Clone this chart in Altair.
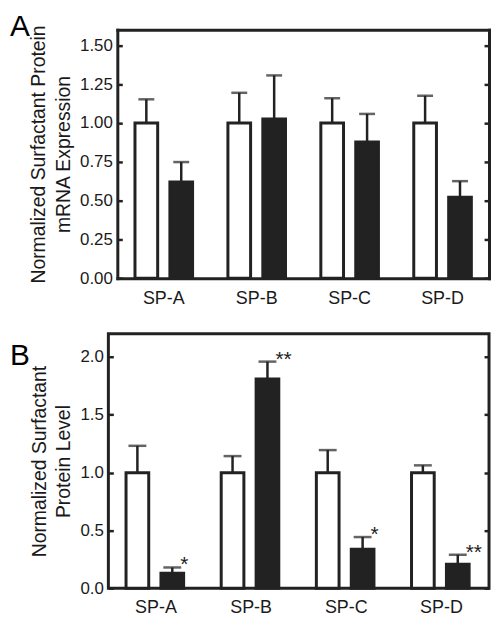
import altair as alt
import pandas as pd

genes = ["SP-A", "SP-B", "SP-C", "SP-D"]
groups = ["Control", "Treated"]

# Panel A: normalized mRNA expression
a_control_mean = [1.00, 1.00, 1.00, 1.00]
a_control_upper = [1.152, 1.194, 1.159, 1.175]
a_treated_mean = [0.619, 1.026, 0.878, 0.522]
a_treated_upper = [0.748, 1.306, 1.058, 0.625]
a_sig = ["", "", "", ""]

# Panel B: normalized protein level
b_control_mean = [1.00, 1.00, 1.00, 1.00]
b_control_upper = [1.232, 1.143, 1.195, 1.063]
b_treated_mean = [0.131, 1.81, 0.337, 0.208]
b_treated_upper = [0.18, 1.96, 0.443, 0.29]
b_sig = ["*", "**", "*", "**"]

a_ticks = [0, 0.25, 0.5, 0.75, 1.0, 1.25, 1.5]
b_ticks = [0, 0.5, 1.0, 1.5, 2.0]

INK = "#222222"
TXT = "#1a1a1a"
FONT = "Liberation Sans"


def make_frame(cm, cu, tm, tu, sig):
    rows = []
    for i, g in enumerate(genes):
        rows.append(dict(gene=g, group=groups[0], mean=cm[i], upper=cu[i], sig=""))
        rows.append(dict(gene=g, group=groups[1], mean=tm[i], upper=tu[i], sig=sig[i]))
    return pd.DataFrame(rows)


def panel(df, letter, width, height, ymax, ticks, fmt, title, x0,
          letter_y, pad_inner, pad_outer, cap, own_frame, xlab_pad):
    xscale = alt.Scale(paddingInner=0, paddingOuter=0, range=[x0, width])
    bottom_axis = alt.Axis(title=None, labelAngle=0, ticks=False, tickSize=0,
                           domain=own_frame, domainWidth=3, domainColor=INK,
                           domainCap="square", labelPadding=xlab_pad, labelFontSize=18)
    x = alt.X("gene:N", sort=genes, scale=xscale, axis=bottom_axis)
    x_none = alt.X("gene:N", sort=genes, scale=xscale, axis=None)
    x_top = alt.X("gene:N", sort=genes, scale=xscale,
                  axis=alt.Axis(orient="top", title=None, labels=False, ticks=False,
                                tickSize=0, domain=True, domainWidth=3,
                                domainColor=INK, domainCap="square"))
    xo = alt.XOffset("group:N", sort=groups,
                     scale=alt.Scale(paddingInner=pad_inner, paddingOuter=pad_outer))
    yscale = alt.Scale(domain=[0, ymax], nice=False, zero=True)

    bars = alt.Chart(df).mark_bar(stroke=INK, strokeWidth=3).encode(
        x=x, xOffset=xo,
        y=alt.Y("mean:Q", scale=yscale,
                axis=alt.Axis(orient="left", values=ticks, format=fmt, title=title,
                              ticks=False, tickSize=0, grid=False,
                              domain=own_frame, domainWidth=3, domainColor=INK,
                              domainCap="square", offset=-x0,
                              labelPadding=5, labelFontSize=17,
                              titleFontSize=19.5, titlePadding=6,
                              titleLineHeight=25)),
        fill=alt.Fill("group:N", scale=alt.Scale(domain=groups, range=["white", INK]),
                      legend=None),
    )
    err = alt.Chart(df).mark_rule(color=INK, strokeWidth=2.5).encode(
        x=x_none, xOffset=xo,
        y=alt.Y("mean:Q", scale=yscale,
                axis=alt.Axis(orient="right", values=ticks, labels=False,
                              ticks=False, tickSize=0, grid=False, title=None,
                              minExtent=0,
                              domain=own_frame, domainWidth=3, domainColor=INK,
                              domainCap="square") if own_frame else None),
        y2="upper:Q",
    )
    caps = alt.Chart(df).mark_tick(color=INK, thickness=2.5, size=cap).encode(
        x=x_top if own_frame else x_none, xOffset=xo,
        y=alt.Y("upper:Q", scale=yscale,
                axis=alt.Axis(orient="right", values=ticks, labels=False, domain=False,
                              grid=False, tickSize=5, tickWidth=2.5, tickColor=INK,
                              minExtent=0, offset=-5, title=None)),
    )
    stars = alt.Chart(df).mark_text(align="left", baseline="alphabetic", dx=8, dy=4,
                                    fontSize=21, color=INK).encode(
        x=x_none, xOffset=xo,
        y=alt.Y("upper:Q", scale=yscale,
                axis=alt.Axis(orient="right", values=ticks, labels=False, domain=False,
                              grid=False, tickSize=5, tickWidth=2.5, tickColor=INK,
                              minExtent=0, offset=-(width - x0), title=None)),
        text="sig:N",
    )
    lab = alt.Chart(pd.DataFrame({"letter": [letter]})).mark_text(
        align="left", baseline="alphabetic", fontSize=30, color="black"
    ).encode(text="letter:N", x=alt.value(-99), y=alt.value(letter_y))

    layered = alt.layer(bars, err, caps, stars, lab).resolve_axis(
        x="independent", y="independent").properties(width=width, height=height)
    if own_frame:
        layered = layered.properties(view=alt.ViewBackground(stroke=None))
    return layered


pa = panel(make_frame(a_control_mean, a_control_upper, a_treated_mean, a_treated_upper, a_sig),
           "A", 383, 250, 1.6, a_ticks, ".2f",
           ["Normalized Surfactant Protein", "mRNA Expression"], 9,
           6, 0.35, 0.506, 16, True, 11)
pb = panel(make_frame(b_control_mean, b_control_upper, b_treated_mean, b_treated_upper, b_sig),
           "B", 383, 256, 2.2, b_ticks, ".1f",
           ["Normalized Surfactant", "Protein Level"], 0,
           31, 0.0, 0.466, 18, False, 10)

chart = alt.vconcat(pa, pb, spacing=25).properties(
    padding={"left": 0, "top": 2, "right": 0, "bottom": -4}
).configure_view(
    stroke=INK, strokeWidth=3
).configure_axis(
    labelFont=FONT, titleFont=FONT, labelColor=TXT, titleColor=TXT,
    titleFontWeight="normal", labelFontWeight="normal"
).configure_text(font=FONT)

chart.save("out.html", embed_options={"renderer": "svg", "actions": False})
